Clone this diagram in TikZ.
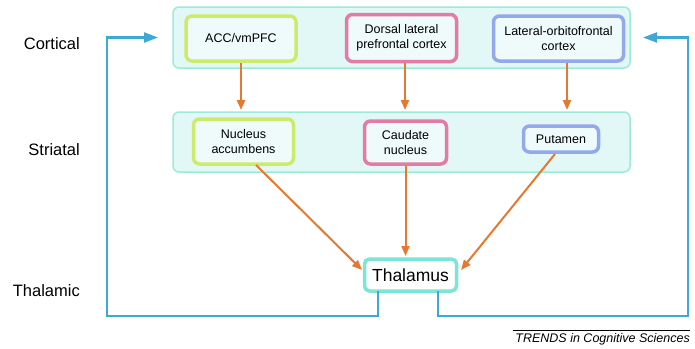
\documentclass[tikz,border=0pt]{standalone}
\usepackage{fontspec}
\setmainfont{Liberation Sans}
\usetikzlibrary{arrows.meta}
\definecolor{bandfill}{HTML}{E2F8F6}
\definecolor{bandline}{HTML}{9EEAD9}
\definecolor{grn}{HTML}{CDEB6A}
\definecolor{pnk}{HTML}{E47BA6}
\definecolor{blu}{HTML}{93A9EC}
\definecolor{orng}{HTML}{E6782F}
\definecolor{cyanline}{HTML}{3FA9D6}
\definecolor{thal}{HTML}{7DE5D6}
\tikzset{
  band/.style={draw=bandline, fill=bandfill, line width=1.5pt, rounded corners=6pt},
  region/.style={draw=#1, fill=bandfill!60!white, line width=3.5pt, rounded corners=6pt, align=center, font=\fontsize{12.5}{15}\selectfont, inner sep=0pt},
  lvl/.style={anchor=east, inner sep=0pt, font=\fontsize{16.5}{19}\selectfont},
  orarrow/.style={draw=orng, line width=2pt, -{Triangle[length=10pt,width=8pt]}},
  fb/.style={draw=cyanline, line width=2.2pt, -{Triangle[length=14pt,width=10pt]}},
}
\begin{document}
\begin{tikzpicture}[x=1pt,y=-1pt]
\useasboundingbox (0,0) rectangle (695,348);
% bands
\node[band, minimum width=457pt, minimum height=61pt] (cortband) at (401.5,37.5) {};
\node[band, minimum width=457pt, minimum height=60pt] (stribband) at (401.5,142) {};
% cortical boxes
\node[region=grn, minimum width=110pt, minimum height=45pt] (acc) at (241,38.5) {ACC/vmPFC};
\node[region=pnk, minimum width=110pt, minimum height=47pt] (dlpfc) at (401.5,38) {Dorsal lateral\\prefrontal cortex};
\node[region=blu, minimum width=130pt, minimum height=45pt] (lofc) at (558.5,38.5) {Lateral-orbitofrontal\\cortex};
% striatal boxes
\node[region=grn, minimum width=100pt, minimum height=45pt] (nacc) at (243.5,141.5) {Nucleus\\accumbens};
\node[region=pnk, minimum width=82pt, minimum height=43pt] (caud) at (405.5,142.5) {Caudate\\nucleus};
\node[region=blu, minimum width=75pt, minimum height=26pt] (put) at (561,139) {Putamen};
% thalamus
\node[draw=thal, fill=white, line width=3.5pt, rounded corners=5pt, minimum width=92pt, minimum height=32pt, inner sep=0pt, font=\fontsize{17.5}{20}\selectfont] (thal) at (410.5,275) {Thalamus};
% level labels
\node[lvl] (lc) at (80,44) {Cortical};
\node[lvl] (ls) at (80,150) {Striatal};
\node[lvl] (lt) at (80,291) {Thalamic};
% orange arrows
\draw[orarrow] (acc.south -| 241,0) -- (241,110);
\draw[orarrow] (dlpfc.south -| 405,0) -- (405,110);
\draw[orarrow] (lofc.south -| 567,0) -- (567,110);
\coordinate (nacc-out) at (256,165);
\coordinate (put-out) at (555,154);
\draw[orarrow] (nacc-out) -- (362,270);
\draw[orarrow] (caud.south) -- (405.5,256);
\draw[orarrow] (put-out) -- (461,270);
% feedback loops
\coordinate (tl) at (378,291);
\coordinate (tr) at (438,291);
\coordinate (la) at (158,37.5);
\coordinate (ra) at (643,37.5);
\draw[fb] (tl) |- (107,316) |- (la);
\draw[fb] (tr) |- (688,316) |- (ra);
% source
\coordinate (srcL) at (513,330);
\coordinate (srcR) at (690,330);
\draw[line width=0.6pt] (srcL) -- (srcR);
\node[anchor=north east, inner sep=0pt, font=\itshape\fontsize{12.5}{14}\selectfont] (src) at (690,333.5) {TRENDS in Cognitive Sciences};
\end{tikzpicture}
\end{document}
